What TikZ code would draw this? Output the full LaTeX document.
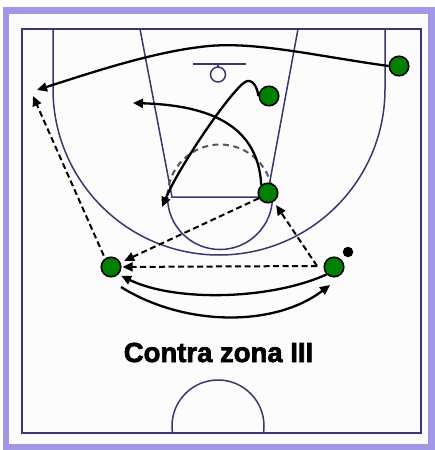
\documentclass[tikz,border=0pt]{standalone}
\usepackage{fontspec}
\setmainfont{Liberation Sans}
\newfontfamily\titlefont{Liberation Sans Bold}[FakeBold=2.5]
\usetikzlibrary{arrows.meta}
\definecolor{courtcol}{RGB}{62,52,112}
\definecolor{framecol}{RGB}{160,152,230}
\definecolor{playercol}{RGB}{0,128,0}
\definecolor{dashcol}{RGB}{85,85,95}
\begin{document}
\begin{tikzpicture}[x=1pt,y=1pt,yscale=-1,
  court/.style={draw=courtcol, line width=1.5pt},
  player/.style={circle, fill=playercol, draw=black, line width=1.6pt, minimum size=19.5pt, inner sep=0pt},
  ballnode/.style={circle, fill=black, minimum size=10.5pt, inner sep=0pt},
  move/.style={draw=black, line width=2.3pt, -{Triangle[length=10pt,width=9pt]}},
  pass/.style={draw=black, line width=2pt, dash pattern=on 6pt off 3.5pt, -{Triangle[length=10pt,width=9pt]}},
]
\useasboundingbox (0,0) rectangle (435,450);
\fill[white] (0,0) rectangle (435,450);
\fill[framecol] (3,7) rectangle (435,450);
\fill[white!98!gray] (9,14) rectangle (428,444);
% court
\draw[court] (22,29) rectangle (421,433);
\draw[court] (53,29) -- (53,89) arc[start angle=180, end angle=0, radius=166] -- (385,29);
\draw[court] (140,29) -- (172,197) -- (267,197) -- (298,29);
\draw[court] (167.5,197) arc[start angle=180, end angle=0, radius=52.5];
\draw[draw=dashcol, line width=2pt, dash pattern=on 6pt off 4.5pt] (272.5,197) arc[start angle=0, end angle=-180, radius=52.5];
\draw[court] (193,64) -- (246,64);
\draw[court] (218,64) -- (218,67);
\draw[court] (218,74.5) circle[radius=7.5];
\begin{scope}
\clip (22,29) rectangle (421,433);
\draw[court] (218,426) circle[radius=46];
\end{scope}
% players
\node[player] (p1) at (399,66) {};
\node[player] (p2) at (269,96) {};
\node[player] (p3) at (268,193) {};
\node[player] (p4) at (111,267) {};
\node[player] (p5) at (334,267) {};
\node[ballnode] (ball) at (348,252) {};
% free ends
\coordinate (e1) at (37,90);
\coordinate (e2) at (162,207);
\coordinate (e3) at (133,103);
\coordinate (e7) at (33,96);
\coordinate (q5) at (317,266);
\coordinate (s9) at (121,287);
\coordinate (t9) at (330,285);
% movements
\draw[move] (p1.west) .. controls (310,55) and (250,40) .. (200,47) .. controls (150,53) and (90,73) .. (e1);
\draw[move] (p2.west) .. controls (257,86) and (252,78) .. (245,82) .. controls (230,92) and (180,165) .. (e2);
\draw[move] (p3.130) .. controls (258,120) and (200,105) .. (e3);
\draw[move, shorten >=3pt] (p5.225) .. controls (270,300) and (175,302) .. (p4.-45);
\draw[move] (s9) .. controls (185,327) and (275,327) .. (t9);
% passes
\draw[pass, shorten >=4pt] (p3.210) -- (p4);
\draw[pass, shorten >=1pt] (q5) -- (p4);
\draw[pass, shorten >=4pt] (q5) -- (p3);
\draw[pass, shorten <=3pt] (p4.125) -- (e7);
% title
\node[font=\fontsize{27.5}{33}\selectfont\titlefont, anchor=base] (title) at (218.5,362) {Contra zona III};
\end{tikzpicture}
\end{document}
